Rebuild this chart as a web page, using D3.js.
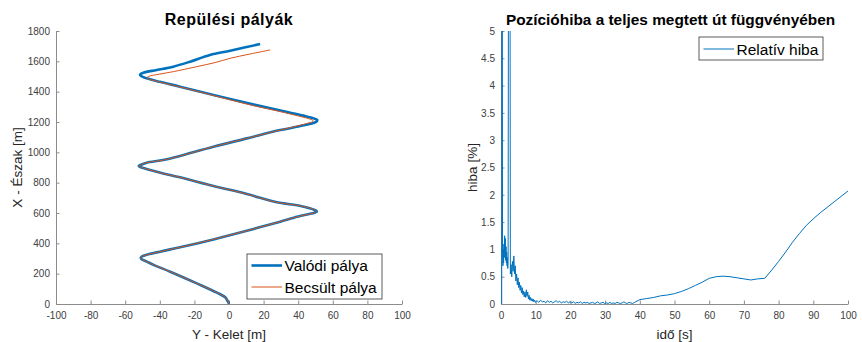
<!DOCTYPE html>
<html><head><meta charset="utf-8">
<script src="https://cdn.jsdelivr.net/npm/d3@7"></script>
<style>
body{margin:0;background:#fff;}
text{font-family:"Liberation Sans",Arial,Helvetica,sans-serif;}
</style></head>
<body><svg id="c" width="862" height="342"></svg>
<script>
// ---------- DATA ----------
const leftTitle = "Repülési pályák";
const rightTitle = "Pozícióhiba a teljes megtett út függvényében";
const leftXLabel = "Y - Kelet [m]";
const leftYLabel = "X - Észak [m]";
const rightXLabel = "idő [s]";
const rightYLabel = "hiba [%]";
const legendLeft = ["Valódi pálya", "Becsült pálya"];
const legendRight = ["Relatív hiba"];

const leftXTicks = [-100,-80,-60,-40,-20,0,20,40,60,80,100];
const leftYTicks = [0,200,400,600,800,1000,1200,1400,1600,1800];
const rightXTicks = [0,10,20,30,40,50,60,70,80,90,100];
const rightYTicks = [0,0.5,1,1.5,2,2.5,3,3.5,4,4.5,5];

// true trajectory: Y (east) and X (north)
const trueY = [0,-0.3,-0.8,-2.2,-7,-18.6,-34,-43,-47.5,-50.5,-51,-50,-48,-40,-28.3,-9,10.3,29.6,37.5,45,49.5,50.8,49.5,42,27,10.3,-9,-28.3,-38,-45.6,-50.5,-52.2,-50.5,-47.5,-38,-30,-9,10.3,29.6,40,47,50.5,51,49,43,31,15,-9,-28.3,-40,-47.5,-50.8,-51.4,-49.5,-41.8,-32.2,-22.5,-11,0.7,18];
const trueX = [0,10,20,44,75,136,213,255,279,295,305,315,323,345,374,426,483,543,569,590,602,610,620,645,672,725,778,835,860,883,900,910,920,932,949,971,1037,1092,1147,1170,1188,1202,1213,1224,1242,1272,1313,1378,1433,1465,1488,1503,1513,1525,1543,1565,1598,1642,1670,1714];
// estimated trajectory
const estY = [0,-0.3,-0.8,-2.2,-7,-18.6,-34,-43,-47.5,-50.5,-51,-50,-48,-40,-28.3,-9,10.3,29.6,37.5,45,49.5,50.5,49.5,42,27,10.3,-9,-28.3,-38,-45.6,-50.5,-52,-50.5,-47.5,-38,-30,-9,10.3,29.6,39,45.5,48.5,48.5,46,40,29,13,-10,-29,-40.5,-47.5,-46.6,-40,-32.2,-18.6,-8,0.7,12,23.8];
const estX = [0,10,20,44,75,136,213,255,279,295,305,315,323,345,374,426,483,543,569,590,602,610,620,645,672,725,778,835,860,883,900,910,920,932,949,971,1037,1092,1147,1172,1192,1203,1211,1222,1240,1270,1311,1378,1433,1465,1490,1500,1516,1532,1565,1592,1620,1648,1675];

// relative position error [%] vs time [s]
const errT = [0,0.2,0.3,0.45,0.55,0.65,0.75,0.85,0.95,1.05,1.15,1.25,1.35,1.45,1.55,1.65,1.75,1.85,1.95,2.05,2.2,2.55,
 2.7,2.9,3.1,3.3,3.5,3.7,3.9,4.1,4.3,4.5,4.7,4.9,5.1,5.3,5.5,5.7,5.9,6.1,6.3,6.5,6.7,6.9,7.1,7.3,7.5,7.7,7.9,8.1,8.3,8.5,8.7,8.9,9.1,9.3,9.5,9.7,9.9,
 10.4,10.9,11.4,11.9,12.4,12.9,13.4,13.9,14.4,14.9,15.4,15.9,16.4,16.9,17.4,17.9,18.4,18.9,19.4,19.9,
 20.4,20.9,21.4,21.9,22.4,22.9,23.4,23.9,24.4,24.9,25.4,25.9,26.4,26.9,27.4,27.9,28.4,28.9,29.4,29.9,
 30.4,30.9,31.4,31.9,32.4,32.9,33.4,33.9,34.4,34.9,35.4,35.9,36.4,36.9,37.4,37.9,
 38.5,40,42,44,46,48,50,52,54,56,58,60,62,64,66,68,70,72,74,76,78,80,82,84,86,88,90,92,94,96,98,100];
const errV = [0,0,9,0.9,0.7,1.0,0.75,1.1,0.85,1.25,0.95,1.2,0.8,1.05,0.75,0.95,0.7,0.85,0.65,0.8,9,9,
 0.55,0.72,0.5,0.78,0.6,0.88,0.55,0.7,0.42,0.55,0.35,0.48,0.3,0.4,0.25,0.34,0.2,0.3,0.17,0.24,0.13,0.22,0.12,0.26,0.14,0.22,0.09,0.16,0.07,0.12,0.06,0.1,0.05,0.09,0.04,0.07,0.03,
 0.06,0.03,0.07,0.04,0.05,0.02,0.06,0.03,0.05,0.02,0.04,0.06,0.03,0.05,0.02,0.04,0.03,0.05,0.02,0.04,
 0.02,0.04,0.01,0.03,0.02,0.04,0.01,0.03,0.02,0.03,0.01,0.02,0.03,0.01,0.02,0.04,0.01,0.02,0.03,0.01,
 0.02,0.01,0.03,0.01,0.02,0.01,0.03,0.02,0.01,0.02,0.04,0.02,0.01,0.03,0.02,0.01,
 0.03,0.08,0.1,0.12,0.15,0.165,0.19,0.23,0.28,0.34,0.4,0.47,0.5,0.51,0.5,0.48,0.46,0.44,0.46,0.47,0.62,0.78,0.95,1.13,1.29,1.44,1.56,1.67,1.77,1.87,1.97,2.07];

// ---------- DRAW ----------
const svg = d3.select("#c");
const BLUE = "#0072BD", ORANGE = "#D95319";
const AXC = "#8c8c8c", TXC = "#404040";

function styleAxis(g){
  g.select(".domain").attr("stroke", AXC).attr("stroke-width",1);
  g.selectAll(".tick line").attr("stroke", AXC);
  g.selectAll(".tick text").attr("fill", TXC).style("font-size","10px")
   .style("font-family",'"Liberation Sans",Arial,sans-serif');
}

function axes(x, y, xt, yt, yfmt){
  svg.append("g").attr("transform",`translate(0,${y.range()[0]})`)
    .call(d3.axisBottom(x).tickValues(xt).tickSizeInner(-3.5).tickSizeOuter(0).tickPadding(8).tickFormat(d=>String(d)))
    .call(styleAxis);
  svg.append("g").attr("transform",`translate(${x.range()[0]},0)`)
    .call(d3.axisLeft(y).tickValues(yt).tickSizeInner(-3.5).tickSizeOuter(0).tickPadding(6).tickFormat(yfmt))
    .call(styleAxis);
}

// Left chart
const xL = d3.scaleLinear([-100,100],[56,402]);
const yL = d3.scaleLinear([0,1800],[304,31]);
axes(xL,yL,leftXTicks,leftYTicks,d=>String(d));

const lineL = d3.line().x(d=>xL(d[0])).y(d=>yL(d[1])).curve(d3.curveCatmullRom.alpha(0.5));
const truePts = trueY.map((v,i)=>[v,trueX[i]]);
const estPts = estY.map((v,i)=>[v,estX[i]]);
svg.append("path").attr("d",lineL(truePts)).attr("fill","none").attr("stroke",BLUE).attr("stroke-width",2.6).attr("stroke-linejoin","round");
svg.append("path").attr("d",lineL(estPts)).attr("fill","none").attr("stroke",ORANGE).attr("stroke-width",1);

// Right chart
const xR = d3.scaleLinear([0,100],[501,848]);
const yR = d3.scaleLinear([0,5],[304,31]);
axes(xR,yR,rightXTicks,rightYTicks,d=>String(d));
svg.append("clipPath").attr("id","clipR").append("rect")
  .attr("x",xR(0)).attr("y",yR(5)).attr("width",xR(100)-xR(0)).attr("height",yR(0)-yR(5));
const lineR = d3.line().x(d=>xR(d[0])).y(d=>yR(d[1]));
svg.append("path").attr("clip-path","url(#clipR)").attr("d",lineR(errT.map((t,i)=>[t,errV[i]])))
  .attr("fill","none").attr("stroke",BLUE).attr("stroke-width",1);

// Titles
function txt(x,y,s,size,opts={}){
  const t = svg.append("text").attr("x",x).attr("y",y).text(s).style("font-size",size+"px")
    .attr("text-anchor",opts.anchor||"middle").attr("fill",opts.fill||"#000");
  if(opts.bold) t.style("font-weight","bold");
  if(opts.ls) t.style("letter-spacing",opts.ls+"px");
  if(opts.rot) t.attr("transform",`rotate(-90,${x},${y})`);
  return t;
}
txt((56+402)/2, 24.5, leftTitle, 16, {bold:true, ls:0.5});
txt((501+848)/2 - 4, 24.5, rightTitle, 15.4, {bold:true});
txt((56+402)/2, 339, leftXLabel, 13.5, {fill:"#262626"});
txt((501+848)/2, 339, rightXLabel, 13.5, {fill:"#262626"});
txt(22, 167.5, leftYLabel, 13.5, {fill:"#262626", rot:true});
txt(477, 167.5, rightYLabel, 13.5, {fill:"#262626", rot:true});

// Legends
function legend(x,y,w,h,items){
  svg.append("rect").attr("x",x).attr("y",y).attr("width",w).attr("height",h)
    .attr("fill","#fff").attr("stroke","#333").attr("stroke-width",0.8);
  items.forEach((it,i)=>{
    const cy = y + it.dy;
    svg.append("line").attr("x1",x+4.5).attr("x2",x+35).attr("y1",cy).attr("y2",cy)
      .attr("stroke",it.c).attr("stroke-width",it.w);
    txt(x+37.5, cy+5.5, it.label, 15.5, {anchor:"start", fill:"#000"});
  });
}
legend(247,254,135,45,[
  {label:legendLeft[0], c:BLUE, w:2.6, dy:11.5},
  {label:legendLeft[1], c:ORANGE, w:1, dy:33}
]);
legend(699,37,124,23,[{label:legendRight[0], c:BLUE, w:1, dy:12}]);
</script></body></html>
